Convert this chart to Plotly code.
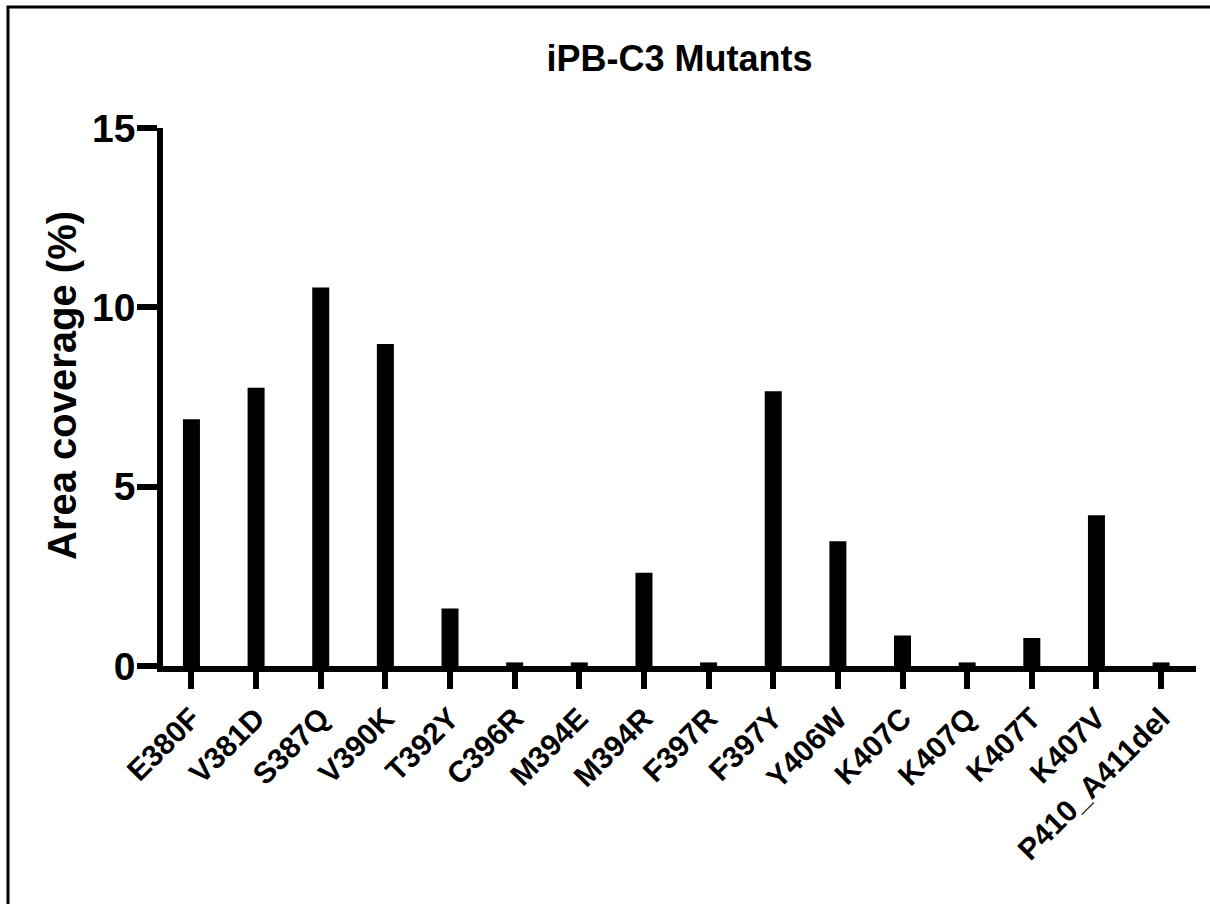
import plotly.graph_objects as go

# Mutant names and measured area coverage (%)
mutants = ["E380F", "V381D", "S387Q", "V390K", "T392Y", "C396R", "M394E", "M394R",
           "F397R", "F397Y", "Y406W", "K407C", "K407Q", "K407T", "K407V", "P410_A411del"]
coverage = [6.88, 7.76, 10.55, 8.98, 1.6, 0.1, 0.1, 2.6,
            0.1, 7.66, 3.48, 0.85, 0.1, 0.78, 4.2, 0.1]

y_ticks = [0, 5, 10, 15]

FONT = "Liberation Sans, Arial, Helvetica, sans-serif"
W, H = 1210, 904
L, R, T, B = 163, 14, 128, 238
pw, ph = W - L - R, H - T - B


def px_to_paper_x(px):
    return (px - L) / pw


def px_to_paper_y(py):
    return (H - B - py) / ph


fig = go.Figure(
    go.Bar(
        x=list(range(len(mutants))),
        y=coverage,
        width=0.263,
        marker=dict(color="black", line=dict(width=0)),
    )
)

fig.update_layout(
    width=W,
    height=H,
    autosize=False,
    margin=dict(l=L, r=R, t=T, b=B, pad=0),
    paper_bgcolor="white",
    plot_bgcolor="white",
    showlegend=False,
    font=dict(family=FONT, color="black", weight="bold"),
    title=dict(
        text="iPB-C3 Mutants",
        font=dict(family=FONT, size=36, color="black", weight="bold"),
        x=0.5,
        xref="paper",
        xanchor="center",
        y=1 - 58 / H,
        yref="container",
        yanchor="middle",
    ),
)

fig.update_xaxes(
    range=[-0.44, 15.54],
    tickmode="array",
    tickvals=list(range(len(mutants))),
    ticktext=mutants,
    tickangle=-45,
    tickfont=dict(family=FONT, size=30, color="black", weight="bold"),
    showline=True,
    linecolor="black",
    linewidth=5.5,
    ticks="outside",
    ticklen=17,
    tickwidth=5.5,
    tickcolor="black",
    showgrid=False,
    zeroline=False,
)

fig.update_yaxes(
    range=[0, 15],
    tickmode="array",
    tickvals=y_ticks,
    ticktext=[str(v) for v in y_ticks],
    tickfont=dict(family=FONT, size=39, color="black", weight="bold"),
    ticklabelstandoff=-6,
    showline=True,
    linecolor="black",
    linewidth=5.5,
    ticks="outside",
    ticklen=20,
    tickwidth=5.5,
    tickcolor="black",
    showgrid=False,
    zeroline=False,
)

# Y-axis title placed as a rotated annotation
fig.add_annotation(
    text="Area coverage (%)",
    xref="paper",
    yref="paper",
    x=px_to_paper_x(62),
    y=px_to_paper_y(386),
    xanchor="center",
    yanchor="middle",
    textangle=-90,
    showarrow=False,
    font=dict(family=FONT, size=40, color="black", weight="bold"),
)

# Frame around the figure (left and top edges fall inside the page)
fig.add_shape(
    type="rect",
    xref="paper",
    yref="paper",
    x0=px_to_paper_x(8),
    x1=px_to_paper_x(W + 10),
    y0=px_to_paper_y(H + 10),
    y1=px_to_paper_y(7),
    line=dict(color="black", width=3),
    fillcolor="rgba(0,0,0,0)",
    layer="above",
)

fig.write_html("out.html")
